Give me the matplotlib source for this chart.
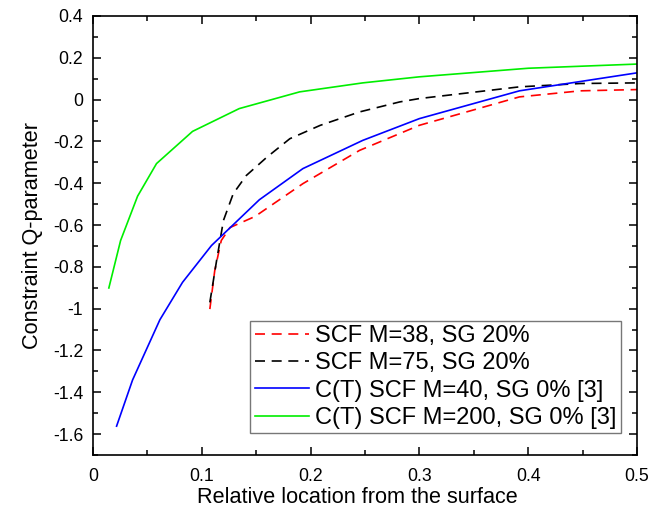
import matplotlib
matplotlib.use("Agg")
import matplotlib.pyplot as plt
from matplotlib.ticker import MultipleLocator, FuncFormatter

plt.rcParams['font.family'] = ['Liberation Sans', 'DejaVu Sans']

# Data
x_m38 = [0.1075, 0.112, 0.118, 0.126, 0.149, 0.193, 0.245, 0.300, 0.392, 0.448, 0.500]
y_m38 = [-1.002, -0.818, -0.674, -0.612, -0.559, -0.402, -0.243, -0.123, 0.013, 0.042, 0.048]

x_m75 = [0.1075, 0.1137, 0.120, 0.129, 0.141, 0.160, 0.181, 0.209, 0.245, 0.282, 0.300, 0.392, 0.448, 0.500]
y_m75 = [-0.970, -0.770, -0.578, -0.450, -0.363, -0.275, -0.187, -0.123, -0.059, -0.011, 0.005, 0.061, 0.077, 0.080]

x_ct40 = [0.0218, 0.0365, 0.0616, 0.0824, 0.109, 0.153, 0.193, 0.248, 0.300, 0.392, 0.500]
y_ct40 = [-1.562, -1.341, -1.053, -0.874, -0.698, -0.479, -0.330, -0.195, -0.091, 0.042, 0.128]

x_ct200 = [0.0147, 0.0255, 0.0411, 0.0585, 0.0916, 0.1345, 0.190, 0.248, 0.300, 0.400, 0.500]
y_ct200 = [-0.901, -0.674, -0.462, -0.306, -0.152, -0.043, 0.037, 0.080, 0.109, 0.150, 0.170]

labels = ["SCF M=38, SG 20%", "SCF M=75, SG 20%",
          "C(T) SCF M=40, SG 0% [3]", "C(T) SCF M=200, SG 0% [3]"]

fig = plt.figure(figsize=(6.68, 5.19), dpi=100)
ax = fig.add_axes([0.139, 0.1233, 0.8146, 0.8459])

lw = 1.2
ax.plot(x_m38, y_m38, color='#ff0000', lw=lw, dashes=(6, 4), label=labels[0])
ax.plot(x_m75, y_m75, color='#000000', lw=lw, dashes=(6, 4), label=labels[1])
ax.plot(x_ct40, y_ct40, color='#0000ff', lw=lw, label=labels[2])
ax.plot(x_ct200, y_ct200, color='#00ee00', lw=lw, label=labels[3])

ax.set_xlim(0, 0.5)
ax.set_ylim(-1.7, 0.4)
ax.xaxis.set_major_locator(MultipleLocator(0.1))
ax.xaxis.set_minor_locator(MultipleLocator(0.05))
ax.yaxis.set_major_locator(MultipleLocator(0.2))
ax.yaxis.set_minor_locator(MultipleLocator(0.1))

fmt = FuncFormatter(lambda v, p: ('%g' % round(v, 6)).replace('\u2212', '-'))
ax.xaxis.set_major_formatter(fmt)
ax.yaxis.set_major_formatter(fmt)

ax.tick_params(which='both', direction='in', top=True, right=True, width=1.1, labelsize=12.7)
ax.tick_params(which='major', length=6)
ax.tick_params(which='minor', length=3.5)
ax.tick_params(axis='x', pad=9)
ax.tick_params(axis='y', pad=7)
for s in ax.spines.values():
    s.set_linewidth(1.2)

ax.set_xlabel("Relative location from the surface", fontsize=15.6)
ax.xaxis.set_label_coords(0.487, -0.0725, transform=ax.transAxes)
ax.xaxis.label.set_va('top')
ax.set_ylabel("Constraint Q-parameter", fontsize=15.6, labelpad=7)

leg = ax.legend(loc='lower right', bbox_to_anchor=(0.9706, 0.050), fontsize=17,
                frameon=True, fancybox=False, edgecolor='#555555',
                handlelength=2.3, handletextpad=0.27, labelspacing=0.22,
                borderpad=0.18, borderaxespad=0)
leg.get_frame().set_linewidth(1.0)

fig.savefig("out.png", dpi=100)
